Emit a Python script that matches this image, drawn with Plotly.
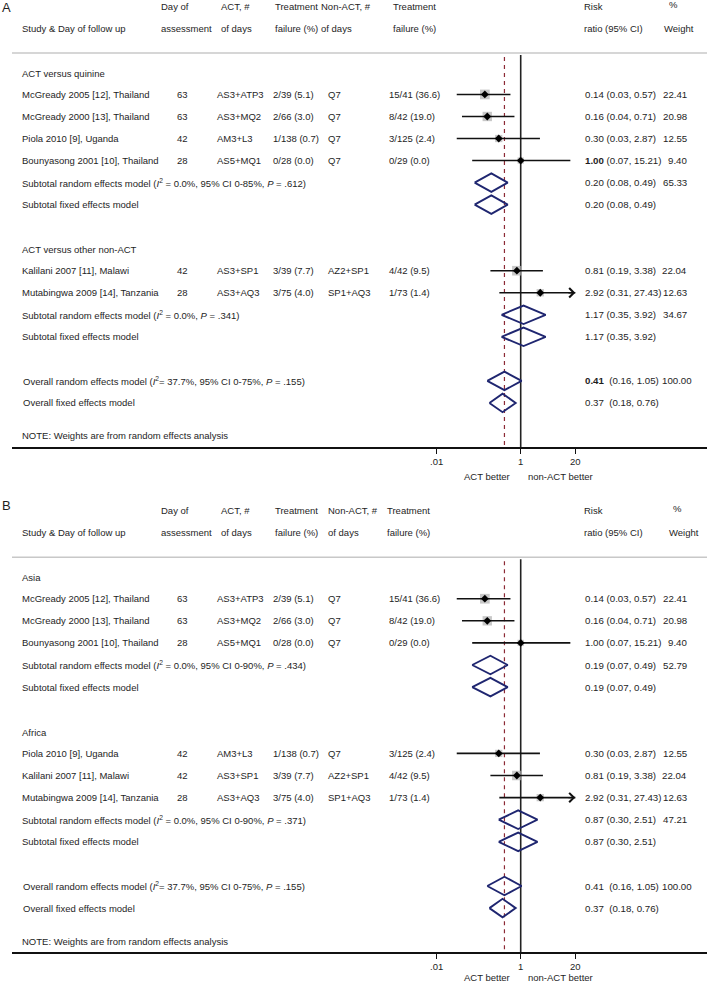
import math
import plotly.graph_objects as go

# ---------------- data ----------------
STUDY = ["McGready 2005 [12], Thailand", "McGready 2000 [13], Thailand", "Piola 2010 [9], Uganda",
         "Bounyasong 2001 [10], Thailand", "Kalilani 2007 [11], Malawi", "Mutabingwa 2009 [14], Tanzania"]
DAY = [63, 63, 42, 28, 42, 28]
ACT = ["AS3+ATP3", "AS3+MQ2", "AM3+L3", "AS5+MQ1", "AS3+SP1", "AS3+AQ3"]
ACT_FAIL = ["2/39 (5.1)", "2/66 (3.0)", "1/138 (0.7)", "0/28 (0.0)", "3/39 (7.7)", "3/75 (4.0)"]
NONACT = ["Q7", "Q7", "Q7", "Q7", "AZ2+SP1", "SP1+AQ3"]
NONACT_FAIL = ["15/41 (36.6)", "8/42 (19.0)", "3/125 (2.4)", "0/29 (0.0)", "4/42 (9.5)", "1/73 (1.4)"]
RR = [0.14, 0.16, 0.30, 1.00, 0.81, 2.92]
RR_LO = [0.03, 0.04, 0.03, 0.07, 0.19, 0.31]
RR_HI = [0.57, 0.71, 2.87, 15.21, 3.38, 27.43]
WEIGHT = [22.41, 20.98, 12.55, 9.40, 22.04, 12.63]

A_GROUPS = ["ACT versus quinine", "ACT versus other non-ACT"]
A_MEMBERS = [[0, 1, 2, 3], [4, 5]]
A_SUB_RR = [0.20, 1.17]
A_SUB_LO = [0.08, 0.35]
A_SUB_HI = [0.49, 3.92]
A_SUB_W = [65.33, 34.67]
A_SUB_HET = ["(<i>I</i><sup>2</sup> = 0.0%, 95% CI 0-85%, <i>P</i> = .612)",
             "(<i>I</i><sup>2</sup> = 0.0%, <i>P</i> = .341)"]

B_GROUPS = ["Asia", "Africa"]
B_MEMBERS = [[0, 1, 3], [2, 4, 5]]
B_SUB_RR = [0.19, 0.87]
B_SUB_LO = [0.07, 0.30]
B_SUB_HI = [0.49, 2.51]
B_SUB_W = [52.79, 47.21]
B_SUB_HET = ["(<i>I</i><sup>2</sup> = 0.0%, 95% CI 0-90%, <i>P</i> = .434)",
             "(<i>I</i><sup>2</sup> = 0.0%, 95% CI 0-90%, <i>P</i> = .371)"]

OVERALL_RAND = [0.41, 0.16, 1.05]
OVERALL_FIX = [0.37, 0.18, 0.76]
OVERALL_HET = "(<i>I</i><sup>2</sup>= 37.7%, 95% CI 0-75%, <i>P</i> = .155)"

TICK_VALS = [0.01, 1, 20]
TICK_TEXT = [".01", "1", "20"]
X_MAX = 20

# ---------------- styling ----------------
W, H = 707, 986
FONT = "Liberation Sans, Arial, sans-serif"
TXT = "#1e1e1e"
NAVY = "#1f2670"
DASH_RED = "#8c2a35"
FS = 9.5
FS_HEAD = 9.5
FS_RR = 9.7
NB = "\u00a0"


def px(x):
    return x / W


fig = go.Figure()
annotations = []
shapes = []


def text(x, y, s, yref, anchor="left", size=FS, xref="paper"):
    annotations.append(dict(x=x, y=y, xref=xref, yref=yref, text=s, showarrow=False,
                            xanchor=anchor, yanchor="middle", borderpad=0,
                            font=dict(family=FONT, size=size, color=TXT)))


def fmt(v):
    return f"{v:.2f}"


def panel(xa_name, ya_name, groups, members, sub_rr, sub_lo, sub_hi, sub_w, sub_het, label,
          hx, bold_rr_idx, bold_overall, label_y):
    yref = ya_name
    # headers
    text(px(1), label_y, label, "paper", size=13)
    text(px(21), -2, "Study & Day of follow up", yref, size=FS_HEAD)
    text(px(hx[0]), -3, "Day of", yref, size=FS_HEAD)
    text(px(hx[0]), -2, "assessment", yref, size=FS_HEAD)
    text(px(hx[1]), -3, "ACT, #", yref, size=FS_HEAD)
    text(px(hx[1]), -2, "of days", yref, size=FS_HEAD)
    text(px(hx[2]), -3, "Treatment", yref, size=FS_HEAD)
    text(px(hx[2]), -2, "failure (%)", yref, size=FS_HEAD)
    text(px(hx[3]), -3, "Non-ACT, #", yref, size=FS_HEAD)
    text(px(hx[3]), -2, "of days", yref, size=FS_HEAD)
    text(px(hx[4]), -3, "Treatment", yref, size=FS_HEAD)
    text(px(hx[4]), -2, "failure (%)", yref, size=FS_HEAD)
    text(px(583), -3, "Risk", yref, size=FS_HEAD)
    text(px(583), -2, "ratio (95% CI)", yref, size=FS_HEAD)
    text(px(hx[5]), -3.1, "%", yref, size=FS_HEAD)
    text(px(hx[6]), -2, "Weight", yref, size=FS_HEAD)
    shapes.append(dict(type="line", xref="paper", yref=yref, x0=px(12), x1=1, y0=-0.88, y1=-0.88,
                       line=dict(color="#c8c8c8", width=1.5)))

    # reference lines
    fig.add_trace(go.Scatter(x=[1, 1], y=[-0.79, 17], mode="lines", xaxis=xa_name, yaxis=ya_name,
                             line=dict(color="#222222", width=1.6), hoverinfo="skip", showlegend=False))
    fig.add_trace(go.Scatter(x=[OVERALL_RAND[0]] * 2, y=[-0.7, 17], mode="lines", xaxis=xa_name,
                             yaxis=ya_name, line=dict(color=DASH_RED, width=1.2, dash="4px,4px"),
                             hoverinfo="skip", showlegend=False))

    row = 0
    sq_x, sq_y, sq_s = [], [], []
    ci_x, ci_y = [], []
    diamonds = []
    for g, grp in enumerate(groups):
        text(px(21), row + 0.05, grp, yref)
        row += 1
        for i in members[g]:
            text(px(21), row, STUDY[i], yref)
            text(px(182), row, str(DAY[i]), yref, anchor="center")
            text(px(216), row, ACT[i], yref)
            text(px(272), row, ACT_FAIL[i], yref)
            text(px(327), row, NONACT[i], yref)
            text(px(388), row, NONACT_FAIL[i], yref)
            rr_s = fmt(RR[i])
            if i == bold_rr_idx:
                rr_s = f"<b>{rr_s}</b>"
            text(px(584), row, f"{rr_s} ({fmt(RR_LO[i])}, {fmt(RR_HI[i])})", yref, size=FS_RR)
            text(px(687.5), row, fmt(WEIGHT[i]), yref, anchor="right", size=FS_RR)
            sq_x.append(RR[i]); sq_y.append(row); sq_s.append(2.05 * math.sqrt(WEIGHT[i]))
            hi = min(RR_HI[i], X_MAX)
            ci_x += [RR_LO[i], hi, None]; ci_y += [row, row, None]
            if RR_HI[i] > X_MAX:
                annotations.append(dict(x=math.log10(X_MAX), y=row, ax=math.log10(X_MAX) - 0.2, ay=row,
                                        xref=xa_name, yref=yref, axref=xa_name, ayref=yref,
                                        showarrow=True, arrowhead=4, arrowsize=1.3, arrowwidth=1.4,
                                        arrowcolor="#111111", text=""))
            row += 1
        text(px(21), row, "Subtotal random effects model " + sub_het[g], yref)
        text(px(584), row, f"{fmt(sub_rr[g])} ({fmt(sub_lo[g])}, {fmt(sub_hi[g])})", yref, size=FS_RR)
        text(px(687.5), row, fmt(sub_w[g]), yref, anchor="right", size=FS_RR)
        diamonds.append((sub_rr[g], sub_lo[g], sub_hi[g], row))
        row += 1
        text(px(21), row, "Subtotal fixed effects model", yref)
        text(px(584), row, f"{fmt(sub_rr[g])} ({fmt(sub_lo[g])}, {fmt(sub_hi[g])})", yref, size=FS_RR)
        diamonds.append((sub_rr[g], sub_lo[g], sub_hi[g], row))
        row += 2
    # overall
    text(px(22), row, "Overall random effects model " + OVERALL_HET, yref)
    r0 = fmt(OVERALL_RAND[0])
    if bold_overall:
        r0 = f"<b>{r0}</b>"
    text(px(584), row, f"{r0}{NB} ({fmt(OVERALL_RAND[1])}, {fmt(OVERALL_RAND[2])})", yref, size=FS_RR)
    text(px(693), row, "100.00", yref, anchor="right", size=FS_RR)
    diamonds.append((OVERALL_RAND[0], OVERALL_RAND[1], OVERALL_RAND[2], row))
    row += 1
    text(px(22), row, "Overall fixed effects model", yref)
    text(px(584), row, f"{fmt(OVERALL_FIX[0])}{NB} ({fmt(OVERALL_FIX[1])}, {fmt(OVERALL_FIX[2])})",
         yref, size=FS_RR)
    diamonds.append((OVERALL_FIX[0], OVERALL_FIX[1], OVERALL_FIX[2], row))
    row += 1.5
    text(px(21), row, "NOTE: Weights are from random effects analysis", yref)

    # markers
    fig.add_trace(go.Scatter(x=sq_x, y=sq_y, mode="markers", xaxis=xa_name, yaxis=ya_name,
                             marker=dict(symbol="square", size=sq_s, color="#b0b0b0", line=dict(width=0)),
                             hoverinfo="skip", showlegend=False))
    fig.add_trace(go.Scatter(x=ci_x, y=ci_y, mode="lines", xaxis=xa_name, yaxis=ya_name,
                             line=dict(color="#111111", width=1.6), hoverinfo="skip", showlegend=False))
    fig.add_trace(go.Scatter(x=sq_x, y=sq_y, mode="markers", xaxis=xa_name, yaxis=ya_name,
                             marker=dict(symbol="diamond", size=6, color="#000000"),
                             hoverinfo="skip", showlegend=False))
    dx, dy = [], []
    h = 0.42
    for est, lo, hi, r in diamonds:
        dx += [lo, est, hi, est, lo, None]
        dy += [r, r - h, r, r + h, r, None]
    fig.add_trace(go.Scatter(x=dx, y=dy, mode="lines", xaxis=xa_name, yaxis=ya_name,
                             line=dict(color=NAVY, width=1.9), hoverinfo="skip", showlegend=False))


panel("x", "y", A_GROUPS, A_MEMBERS, A_SUB_RR, A_SUB_LO, A_SUB_HI, A_SUB_W, A_SUB_HET, "A",
      [160, 220, 274, 320, 392, 668, 663], 3, True, 1 - 7 / H)
panel("x2", "y2", B_GROUPS, B_MEMBERS, B_SUB_RR, B_SUB_LO, B_SUB_HI, B_SUB_W, B_SUB_HET, "B",
      [160, 220, 274, 327, 386, 672, 668], -1, False, 1 - 505 / H)

# bottom labels
for ypx in (476.7, 977):
    text(px(511), 1 - ypx / H, "ACT better", "paper", anchor="right")
    text(px(527), 1 - ypx / H, "non-ACT better", "paper", anchor="left")

XL = (12 - 520.7) / 42
XR = (707 - 520.7) / 42
xcommon = dict(type="log", domain=[12 / W, 1], range=[XL, XR], showgrid=False, zeroline=False,
               showline=True, linecolor="#111111", linewidth=1.5, ticks="outside", ticklen=5,
               tickwidth=1.2, tickcolor="#111111", tickvals=TICK_VALS, ticktext=TICK_TEXT,
               tickfont=dict(family=FONT, size=FS, color=TXT), fixedrange=True)
ycommon = dict(visible=False, range=[17, -3.286], fixedrange=True)

fig.update_layout(
    width=W, height=H, margin=dict(l=0, r=0, t=0, b=0),
    paper_bgcolor="white", plot_bgcolor="white", showlegend=False,
    xaxis=dict(**xcommon, anchor="y"),
    xaxis2=dict(**xcommon, anchor="y2"),
    yaxis=dict(**ycommon, domain=[1 - 447 / H, 1]),
    yaxis2=dict(**ycommon, domain=[1 - 952.3 / H, 1 - 504 / H]),
    annotations=annotations, shapes=shapes,
)

fig.write_html("out.html", config={"displayModeBar": False},
               post_script="document.body.style.margin='0';document.body.style.overflow='hidden';")
